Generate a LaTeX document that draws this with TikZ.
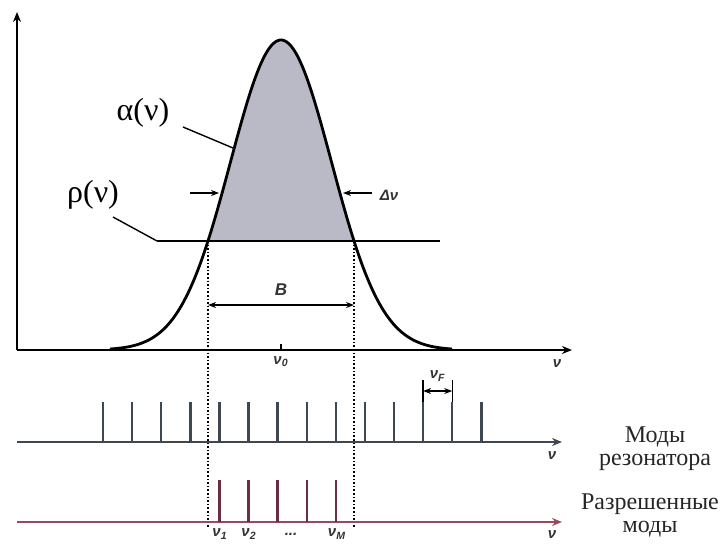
\documentclass[tikz,border=0pt]{standalone}
\usepackage{fontspec}
\setmainfont{Liberation Serif}
\newfontfamily\lblfont{Liberation Sans}
\usetikzlibrary{arrows.meta,positioning,calc}
\definecolor{fillg}{HTML}{B9BAC6}
\definecolor{modeb}{HTML}{3F4753}
\definecolor{moder}{HTML}{6A2E42}
\definecolor{axr}{HTML}{9A4A5E}
\tikzset{
  ax/.style={-{Stealth[length=5pt,width=4pt]},line width=0.9pt},
  curve/.style={line width=1.4pt},
  ptr/.style={line width=0.7pt},
  dim/.style={{Stealth[length=4pt,width=3pt]}-{Stealth[length=4pt,width=3pt]},line width=0.7pt},
  tipr/.style={-{Stealth[length=4pt,width=3pt]},line width=0.7pt},
  guide/.style={densely dotted,line width=0.8pt},
  modeline/.style={line width=1.2pt,draw=modeb},
  okline/.style={line width=1.2pt,draw=moder},
  big/.style={font=\fontsize{16}{18}\selectfont},
  sm/.style={font=\lblfont\bfseries\itshape\fontsize{7.5}{8}\selectfont,inner sep=1pt,text=black!80},
  rus/.style={font=\fontsize{12}{11.5}\selectfont,align=center,text=black!85},
}

\begin{document}
\begin{tikzpicture}[x=0.5pt,y=-0.5pt]
  \useasboundingbox (0,0) rectangle (722,543);
  % gain contour
  \fill[fillg] plot[domain=208:354,samples=60] (\x,{350-310*exp(-((\x-281)/50.5)^2/2)}) -- cycle;
  \draw[curve] plot[domain=110:452,samples=150,smooth] (\x,{350-310*exp(-((\x-281)/50.5)^2/2)});
  % axes
  \coordinate (o) at (17,350);
  \coordinate (ytop) at (17,12);
  \coordinate (xend) at (572,350);
  \draw[ax] (o) -- (ytop);
  \draw[ax] (o) -- (xend);
  \node[sm] (nux) at (557,364) {ν};
  % loss level
  \coordinate (rhoL) at (157,241);
  \coordinate (rhoR) at (440,241);
  \coordinate (cutL) at (208,241);
  \coordinate (cutR) at (354,241);
  \draw[line width=0.9pt] (rhoL) -- (rhoR);
  \node[big] (alpha) at (143,113) {α(ν)};
  \node[big] (rho) at (93,195) {ρ(ν)};
  \coordinate (alphapt) at (233,148);
  \draw[ptr] (183,127) -- (alphapt);
  \draw[ptr] (113,217) -- (rhoL);
  % width arrows
  \coordinate (dl) at (219,193);
  \coordinate (dr) at (343,193);
  \draw[tipr] (190,193) -- (dl);
  \draw[tipr] (372,193) -- (dr);
  \node[sm] (dnu) at (389,195) {Δν};
  % guides
  \coordinate (gL) at (208,528);
  \coordinate (gR) at (354,528);
  \draw[guide] (cutL) -- (gL);
  \draw[guide] (cutR) -- (gR);
  \coordinate (bL) at (208,305);
  \coordinate (bR) at (354,305);
  \draw[dim] (bL) -- (bR);
  \node[sm,font=\lblfont\bfseries\itshape\fontsize{8.5}{9}\selectfont] (B) at (281,290) {B};
  \coordinate (nu0) at (281,350);
  \draw[line width=0.7pt] (nu0) -- ++(0,-6);
  \node[sm,below=2pt of nu0] (nu0lbl) {ν\textsubscript{0}};
  % resonator modes
  \coordinate (m0) at (17,442);
  \coordinate (mend) at (562,442);
  \draw[ax,draw=modeb] (m0) -- (mend);
  \node[sm] (num) at (552,456) {ν};
  \foreach \i in {0,...,13}
    \draw[modeline] ({103+29.1*\i},442) -- ({103+29.1*\i},402);
  \coordinate (fa) at ({103+29.1*11},380);
  \coordinate (fb) at ({103+29.1*12},380);
  \draw[line width=0.7pt] (fa) -- ++(0,22);
  \draw[line width=0.7pt] (fb) -- ++(0,22);
  \draw[dim] ($(fa)+(0,11)$) -- ($(fb)+(0,11)$);
  \node[sm] (nuF) at ($(fa)!0.5!(fb)+(0,-4)$) {ν\textsubscript{F}};
  \node[rus] (modes) at (655,449) {Моды\\резонатора};
  % allowed modes
  \coordinate (a0) at (17,522);
  \coordinate (aend) at (562,522);
  \draw[ax,draw=axr] (a0) -- (aend);
  \node[sm] (nua) at (552,535) {ν};
  \foreach \i in {4,...,8}
    \draw[okline] ({103+29.1*\i},522) -- ({103+29.1*\i},480);
  \node[sm] (nu1) at (220,534) {ν\textsubscript{1}};
  \node[sm] (nu2) at (249,534) {ν\textsubscript{2}};
  \node[sm] (dots) at (291,534) {...};
  \node[sm] (nuM) at (337,534) {ν\textsubscript{M}};
  \node[rus] (allowed) at (650,515) {Разрешенные\\моды};
\end{tikzpicture}
\end{document}
